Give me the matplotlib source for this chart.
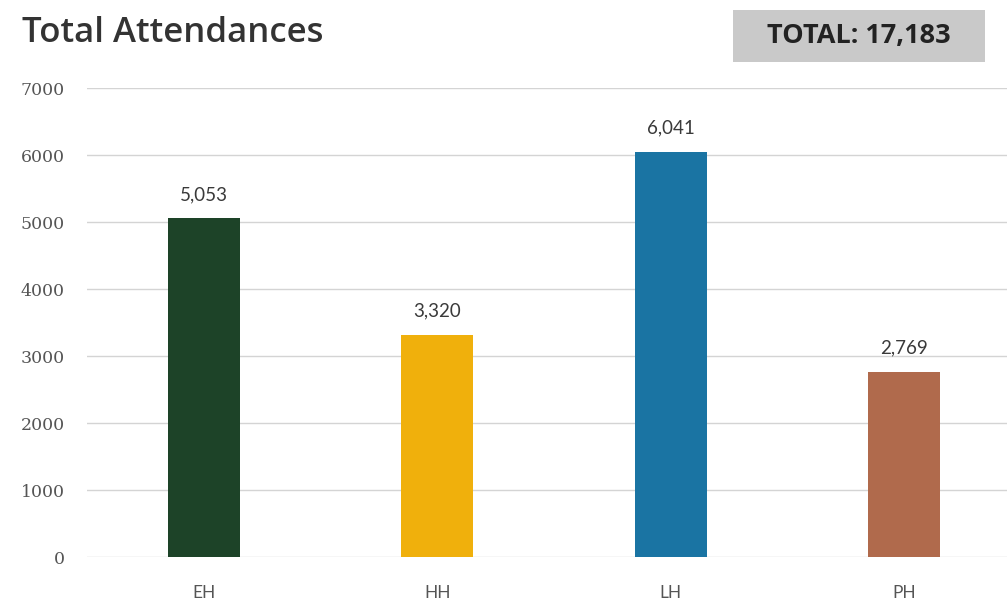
import matplotlib
matplotlib.use('Agg')
import matplotlib.pyplot as plt
from matplotlib.patches import Rectangle
import numpy as np

# data
sites = ['EH', 'HH', 'LH', 'PH']
attendances = [5053, 3320, 6041, 2769]
bar_colors = ['#1d4328', '#f0b00c', '#1a74a3', '#b06a4c']
y_ticks = [0, 1000, 2000, 3000, 4000, 5000, 6000, 7000]
total_label = 'TOTAL: 17,183'

fig = plt.figure(figsize=(10.07, 6.05), dpi=100)
ax = fig.add_axes([0.0864, 0.0793, 0.9136, 0.7752])

x = np.arange(len(sites))
ax.bar(x, attendances, width=0.31, color=bar_colors, zorder=3)

for xi, v in zip(x, attendances):
    ax.text(xi, v + 230, format(v, ','), ha='center', va='bottom',
            fontsize=13.5, color='#3a3a3a', family='Lato')

ax.set_ylim(0, 7000)
ax.set_xlim(-0.5, 3.44)
ax.set_yticks(y_ticks)
ax.set_yticklabels([str(t) for t in y_ticks], family='DejaVu Serif',
                   fontsize=12.5, color='#555555')
ax.set_xticks(x)
ax.set_xticklabels(sites, family='Lato', fontsize=12.5, color='#555555')
ax.tick_params(axis='both', length=0)
ax.tick_params(axis='y', pad=16)
ax.tick_params(axis='x', pad=20)
ax.grid(axis='y', color='#d4d4d4', linewidth=1, zorder=0)
for s in ax.spines.values():
    s.set_visible(False)

fig.text(0.022, 0.945, 'Total Attendances', fontsize=25, fontweight='semibold',
         family='Open Sans', color='#333333', va='center')

# grey box behind the total
fig.patches.append(Rectangle((0.728, 0.8975), 0.250, 0.086,
                             transform=fig.transFigure, facecolor='#c9c9c9',
                             edgecolor='none'))
fig.text(0.853, 0.9405, total_label, fontsize=19.5, fontweight='bold',
         family='Open Sans', color='#222222', ha='center', va='center')

fig.savefig('out.png', dpi=100)
